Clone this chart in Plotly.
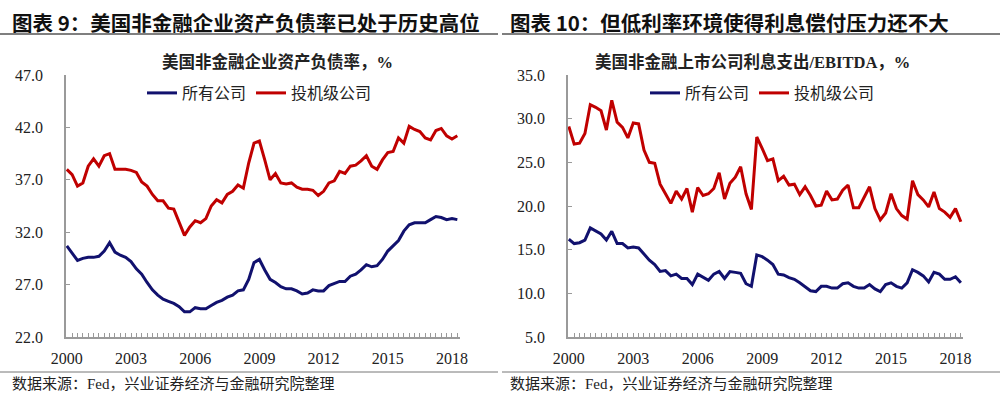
import plotly.graph_objects as go

# ---------------- data ----------------
quarters = [f"{y}Q{q}" for y in range(2000, 2019) for q in range(1, 5)][:74]
year_labels = ["2000", "2003", "2006", "2009", "2012", "2015", "2018"]

# Chart 9: US non-financial corporate debt-to-asset ratio, %
debt_all = [30.7, 30.0, 29.3, 29.5, 29.6, 29.6, 29.7, 30.2, 31.0, 30.1,
            29.8, 29.6, 29.2, 28.5, 28.0, 27.2, 26.5, 26.0, 25.6, 25.4,
            25.2, 24.9, 24.4, 24.4, 24.8, 24.7, 24.7, 25.0, 25.3, 25.5,
            25.8, 26.0, 26.4, 26.5, 27.5, 29.1, 29.4, 28.4, 27.5, 27.2,
            26.8, 26.6, 26.6, 26.4, 26.1, 26.2, 26.5, 26.4, 26.4, 26.9,
            27.1, 27.3, 27.3, 27.8, 28.0, 28.4, 28.9, 28.7, 28.8, 29.4,
            30.2, 30.7, 31.2, 32.1, 32.7, 32.9, 32.9, 32.9, 33.2, 33.5,
            33.4, 33.2, 33.3, 33.2]
debt_spec = [38.0, 37.5, 36.4, 36.7, 38.3, 39.0, 38.3, 39.3, 39.5, 38.0,
             38.0, 38.0, 37.9, 37.7, 36.8, 36.4, 35.6, 35.0, 35.0, 34.3,
             34.2, 32.9, 31.7, 32.5, 33.1, 32.9, 33.3, 34.5, 35.1, 34.8,
             35.6, 35.9, 36.5, 36.2, 38.6, 40.5, 40.7, 38.9, 37.0, 37.6,
             36.7, 36.6, 36.7, 36.3, 36.1, 36.1, 36.0, 35.5, 35.9, 36.7,
             36.9, 37.8, 37.6, 38.3, 38.4, 38.8, 39.3, 38.3, 38.0, 38.9,
             39.6, 39.7, 41.0, 40.5, 42.1, 41.8, 41.6, 41.0, 40.8, 41.7,
             41.9, 41.2, 40.9, 41.2]

# Chart 10: interest expense / EBITDA of US non-financial listed companies, %
int_all = [16.2, 15.7, 15.8, 16.1, 17.5, 17.1, 16.8, 16.1, 17.1, 15.7,
           15.7, 15.2, 15.3, 15.2, 14.5, 13.8, 13.3, 12.5, 12.6, 12.0,
           12.2, 11.7, 11.7, 11.0, 12.2, 11.8, 11.5, 12.2, 12.5, 11.7,
           12.5, 12.4, 12.3, 11.1, 10.8, 14.4, 14.2, 13.8, 13.3, 12.2,
           12.1, 11.8, 11.6, 11.2, 10.7, 10.3, 10.2, 10.8, 10.8, 10.6,
           10.6, 11.1, 11.2, 10.8, 10.6, 10.6, 11.0, 10.5, 10.2, 11.0,
           11.2, 10.8, 10.6, 11.2, 12.7, 12.4, 12.0, 11.3, 12.4, 12.2,
           11.6, 11.6, 11.9, 11.2]
int_spec = [29.1, 27.1, 27.2, 28.3, 31.6, 31.3, 30.9, 28.7, 32.1, 29.6,
            29.0, 27.8, 29.5, 29.4, 26.4, 25.0, 24.9, 22.5, 21.4, 20.3,
            21.7, 20.8, 22.0, 19.3, 22.1, 21.2, 21.4, 22.0, 23.8, 20.8,
            22.6, 23.3, 24.5, 21.4, 19.6, 27.9, 26.6, 25.2, 25.4, 22.9,
            23.4, 22.4, 22.5, 21.3, 22.2, 21.2, 20.0, 20.1, 21.7, 20.7,
            20.8, 21.8, 22.4, 19.8, 19.8, 21.0, 22.2, 19.7, 18.4, 19.2,
            21.4, 19.7, 18.9, 18.5, 22.9, 21.3, 20.7, 19.9, 21.6, 19.7,
            19.3, 18.7, 19.7, 18.2]

series_names = ["所有公司", "投机级公司"]
titles = ["图表 9：美国非金融企业资产负债率已处于历史高位",
          "图表 10：但低利率环境使得利息偿付压力还不大"]
subtitles = ["美国非金融企业资产负债率，%",
             "美国非金融上市公司利息支出/EBITDA，%"]
source = "数据来源：Fed，兴业证券经济与金融研究院整理"

# ---------------- style ----------------
NAVY = "#11116E"
RED = "#C00000"
AXIS = "#9A9A9A"
TXT = "#222222"
SERIF = "Liberation Serif, Noto Sans CJK SC, serif"
CJK = "Noto Sans CJK SC, sans-serif"
W, H = 1000, 394

def px(x):
    return x / W

def py(y):
    return (H - y) / H

fig = go.Figure()
fig.add_trace(go.Scatter(x=quarters, y=debt_all, name=series_names[0], mode="lines",
                         line=dict(color=NAVY, width=3), xaxis="x", yaxis="y", legend="legend"))
fig.add_trace(go.Scatter(x=quarters, y=debt_spec, name=series_names[1], mode="lines",
                         line=dict(color=RED, width=3), xaxis="x", yaxis="y", legend="legend"))
fig.add_trace(go.Scatter(x=quarters, y=int_all, name=series_names[0], mode="lines",
                         line=dict(color=NAVY, width=3), xaxis="x2", yaxis="y2", legend="legend2"))
fig.add_trace(go.Scatter(x=quarters, y=int_spec, name=series_names[1], mode="lines",
                         line=dict(color=RED, width=3), xaxis="x2", yaxis="y2", legend="legend2"))

ticktext = [q[:4] if (q.endswith("Q1") and q[:4] in year_labels) else "" for q in quarters]

xaxis_common = dict(type="category", tickmode="array", tickvals=quarters, ticktext=ticktext,
                    ticks="inside", ticklen=4, tickwidth=1, tickcolor=AXIS,
                    showline=True, linecolor=AXIS, linewidth=1.5, showgrid=False, zeroline=False,
                    tickfont=dict(family=SERIF, size=16, color=TXT), tickangle=0,
                    ticklabelstandoff=6, automargin=False)
yaxis_common = dict(ticks="inside", ticklen=4, tickwidth=1, tickcolor=AXIS, dtick=5,
                    showline=True, linecolor=AXIS, linewidth=1.5, showgrid=False, zeroline=False,
                    tickformat=".1f", tickfont=dict(family=SERIF, size=16, color=TXT),
                    ticklabelstandoff=18, automargin=False)

ydom = [py(337), py(75)]
fig.update_layout(
    width=W, height=H, margin=dict(l=0, r=0, t=0, b=0, autoexpand=False),
    paper_bgcolor="white", plot_bgcolor="white",
    xaxis=dict(domain=[px(66), px(460)], range=[-0.15, 73.5], anchor="y", **xaxis_common),
    yaxis=dict(domain=ydom, range=[22, 47], tick0=22, anchor="x", **yaxis_common),
    xaxis2=dict(domain=[px(568), px(963)], range=[-0.15, 73.4], anchor="y2", **xaxis_common),
    yaxis2=dict(domain=ydom, range=[5, 35], tick0=5, anchor="x2", **yaxis_common),
    legend=dict(orientation="h", x=px(142), y=py(93), xanchor="left", yanchor="middle",
                font=dict(family=SERIF, size=16, color=TXT), bgcolor="rgba(0,0,0,0)",
                itemwidth=30, tracegroupgap=0),
    legend2=dict(orientation="h", x=px(645), y=py(93), xanchor="left", yanchor="middle",
                 font=dict(family=SERIF, size=16, color=TXT), bgcolor="rgba(0,0,0,0)",
                 itemwidth=30, tracegroupgap=0),
    showlegend=True,
)

# titles, subtitles, source notes
for i, x0 in enumerate([10, 508]):
    fig.add_annotation(text=titles[i], x=px(x0), y=py(22), xref="paper", yref="paper",
                       xanchor="left", yanchor="middle", align="left", showarrow=False,
                       font=dict(family=CJK, size=20.5, color="#111111", weight="bold"))
    fig.add_annotation(text=source, x=px(x0), y=py(383), xref="paper", yref="paper",
                       xanchor="left", yanchor="middle", align="left", showarrow=False,
                       font=dict(family=SERIF, size=15, color=TXT))
for i, xc in enumerate([277, 752]):
    fig.add_annotation(text=subtitles[i], x=px(xc), y=py(62), xref="paper", yref="paper",
                       xanchor="center", yanchor="middle", showarrow=False,
                       font=dict(family=SERIF, size=16.5, color=TXT, weight="bold"))

# separator lines
for (a, b) in [(0, 498), (502, 1000)]:
    fig.add_shape(type="line", xref="paper", yref="paper", x0=px(a), x1=px(b),
                  y0=py(34), y1=py(34), line=dict(color="#555555", width=1.5))
    fig.add_shape(type="line", xref="paper", yref="paper", x0=px(a), x1=px(b),
                  y0=py(372), y1=py(372), line=dict(color="#777777", width=1))

fig.write_html("out.html", config={"displayModeBar": False},
               post_script="document.body.style.margin='0';document.body.style.overflow='hidden';")
